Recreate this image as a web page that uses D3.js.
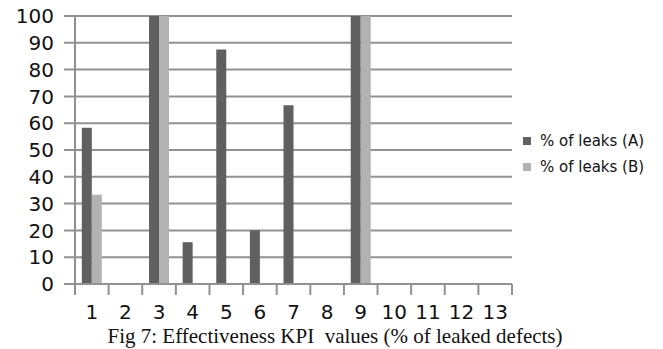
<!DOCTYPE html>
<html>
<head>
<meta charset="utf-8">
<script src="https://cdn.jsdelivr.net/npm/d3@7/dist/d3.min.js"></script>
<style>
  html, body { margin: 0; padding: 0; background: #fff; }
  svg { display: block; }
</style>
</head>
<body>
<svg id="chart" width="663" height="349"></svg>
<script>
// KPI categories and the two leak-percentage series
const categories = ["1","2","3","4","5","6","7","8","9","10","11","12","13"];
const leaksA = [58.3, 0, 100, 15.6, 87.5, 20, 66.7, 0, 100, 0, 0, 0, 0];
const leaksB = [33.3, 0, 100, 0, 0, 0, 0, 0, 100, 0, 0, 0, 0];
const seriesNames = ["% of leaks (A)", "% of leaks (B)"];
const seriesColors = ["#606060", "#b2b2b2"];
const yTicks = [0, 10, 20, 30, 40, 50, 60, 70, 80, 90, 100];
const caption = "Fig 7: Effectiveness KPI\u00a0 values (% of leaked defects)";

const svg = d3.select("#chart");
const plot = { left: 75, right: 512, top: 16, bottom: 284 };

const x = d3.scaleBand().domain(categories).range([plot.left, plot.right]).paddingInner(0).paddingOuter(0);
const y = d3.scaleLinear().domain([0, 100]).range([plot.bottom, plot.top]);
const barW = 10;
const gridColor = "#919191";

// horizontal gridlines with short left ticks
svg.append("g").selectAll("line").data(yTicks).join("line")
  .attr("x1", plot.left - 11).attr("x2", plot.right)
  .attr("y1", d => y(d)).attr("y2", d => y(d))
  .attr("stroke", gridColor).attr("stroke-width", 2);

// y axis line
svg.append("line")
  .attr("x1", plot.left).attr("x2", plot.left)
  .attr("y1", plot.top).attr("y2", plot.bottom)
  .attr("stroke", gridColor).attr("stroke-width", 2);

// y tick labels
svg.append("g").selectAll("text").data(yTicks).join("text")
  .attr("x", 54).attr("y", d => y(d)).attr("dy", "0.36em")
  .attr("text-anchor", "end")
  .attr("font-family", "DejaVu Sans").attr("font-size", 20).attr("fill", "#111")
  .text(d => d);

// x category boundary ticks
const boundaries = categories.map(c => x(c)).concat([plot.right]);
svg.append("g").selectAll("line").data(boundaries).join("line")
  .attr("x1", d => d).attr("x2", d => d)
  .attr("y1", plot.bottom).attr("y2", plot.bottom + 11)
  .attr("stroke", gridColor).attr("stroke-width", 2);

// bars
const series = [leaksA, leaksB];
series.forEach((vals, si) => {
  svg.append("g").selectAll("rect").data(vals.map((v, i) => ({ v, c: categories[i] })))
    .join("rect")
    .attr("x", d => x(d.c) + x.bandwidth() / 2 - barW + si * barW)
    .attr("y", d => y(d.v))
    .attr("width", barW)
    .attr("height", d => y(0) - y(d.v))
    .attr("fill", seriesColors[si]);
});

// x axis line on top of bars
svg.append("line")
  .attr("x1", plot.left - 11).attr("x2", plot.right)
  .attr("y1", plot.bottom).attr("y2", plot.bottom)
  .attr("stroke", gridColor).attr("stroke-width", 2);

// x tick labels
svg.append("g").selectAll("text").data(categories).join("text")
  .attr("x", d => x(d) + x.bandwidth() / 2).attr("y", 319)
  .attr("text-anchor", "middle")
  .attr("font-family", "DejaVu Sans").attr("font-size", 20).attr("fill", "#111")
  .text(d => d);

// legend
const legend = svg.append("g");
seriesNames.forEach((name, i) => {
  const ly = 141 + i * 26;
  legend.append("rect").attr("x", 523).attr("y", ly - 4).attr("width", 8).attr("height", 8)
    .attr("fill", seriesColors[i]);
  legend.append("text").attr("x", 540).attr("y", ly).attr("dy", "0.35em")
    .attr("font-family", "DejaVu Sans").attr("font-size", 15).attr("fill", "#111")
    .text(name);
});

// figure caption
svg.append("text").attr("x", 335).attr("y", 343)
  .attr("text-anchor", "middle")
  .attr("font-family", "Liberation Serif").attr("font-size", 21).attr("fill", "#111")
  .text(caption);
</script>
</body>
</html>
